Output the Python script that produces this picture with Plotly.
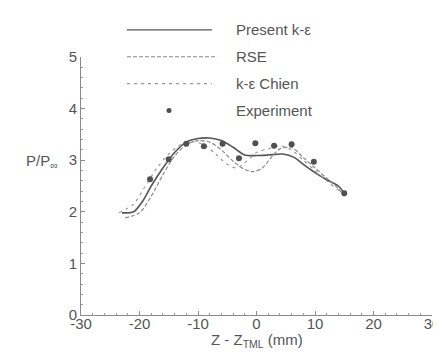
import plotly.graph_objects as go

# Data
present_x = [-23, -21, -19.5, -18, -16, -14, -12, -10, -8, -6, -4, -2, 0, 2, 4.5, 6.5, 8, 10, 12, 14, 15]
present_y = [1.98, 2.0, 2.2, 2.5, 2.85, 3.15, 3.35, 3.42, 3.43, 3.38, 3.25, 3.1, 3.09, 3.1, 3.12, 3.05, 2.92, 2.76, 2.62, 2.5, 2.36]

rse_x = [-22.5, -20, -18, -16, -14, -12, -10, -8, -6, -4, -2, -0.5, 1, 2.5, 4, 6, 8, 10, 12, 14, 15]
rse_y = [1.88, 1.98, 2.3, 2.72, 3.08, 3.3, 3.38, 3.35, 3.2, 2.98, 2.82, 2.78, 2.85, 3.05, 3.22, 3.25, 3.05, 2.85, 2.65, 2.45, 2.3]

chien_x = [-23.5, -21, -19, -17, -15, -13, -11, -9, -7, -5, -3.5, -2, 0, 2, 4, 6, 8, 10, 12, 14, 15]
chien_y = [1.98, 2.15, 2.5, 2.85, 3.12, 3.3, 3.36, 3.3, 3.12, 2.92, 2.85, 2.95, 3.15, 3.22, 3.28, 3.2, 3.0, 2.8, 2.6, 2.42, 2.35]

exp_x = [-18.2, -15.0, -12.0, -9.0, -5.8, -3.0, -0.2, 3.0, 6.0, 9.8, 15.0]
exp_y = [2.63, 3.02, 3.32, 3.27, 3.32, 3.04, 3.33, 3.28, 3.31, 2.97, 2.36]

legend_labels = ["Present k-ε", "RSE", "k-ε Chien", "Experiment"]

x_ticks = [-30, -20, -10, 0, 10, 20, 30]
y_ticks = [0, 1, 2, 3, 4, 5]

FONT = "Liberation Sans, Arial, sans-serif"
TXT = "#555555"
RSE_DASH = "4px,2px"
CHIEN_DASH = "3px,4px"

fig = go.Figure()
fig.add_trace(go.Scatter(x=present_x, y=present_y, mode="lines", line=dict(color="#555555", width=1.6, shape="spline", smoothing=0.8)))
fig.add_trace(go.Scatter(x=rse_x, y=rse_y, mode="lines", line=dict(color="#8a8a8a", width=1.2, dash=RSE_DASH, shape="spline", smoothing=0.8)))
fig.add_trace(go.Scatter(x=chien_x, y=chien_y, mode="lines", line=dict(color="#999999", width=1.2, dash=CHIEN_DASH, shape="spline", smoothing=0.8)))
fig.add_trace(go.Scatter(x=exp_x, y=exp_y, mode="markers", marker=dict(color="#505050", size=6, symbol="circle")))

# Legend drawn manually (paper coordinates)
rows = [1.105, 1.001, 0.897, 0.793]
x0, x1, xt = 0.131, 0.373, 0.437
fig.add_shape(type="line", xref="paper", yref="paper", x0=x0, x1=x1, y0=rows[0], y1=rows[0], line=dict(color="#555555", width=1.4))
fig.add_shape(type="line", xref="paper", yref="paper", x0=x0, x1=x1 + 0.015, y0=rows[1], y1=rows[1], line=dict(color="#8a8a8a", width=1.2, dash=RSE_DASH))
fig.add_shape(type="line", xref="paper", yref="paper", x0=x0, x1=x1, y0=rows[2], y1=rows[2], line=dict(color="#999999", width=1.2, dash=CHIEN_DASH))
fig.add_shape(type="circle", xref="paper", yref="paper", xsizemode="pixel", ysizemode="pixel",
              xanchor=0.2507, yanchor=rows[3], x0=-2.5, x1=2.5, y0=-2.5, y1=2.5,
              fillcolor="#505050", line=dict(width=0))
for lab, ry in zip(legend_labels, rows):
    fig.add_annotation(text=lab, xref="paper", yref="paper", x=xt, y=ry, xanchor="left", yanchor="middle",
                       showarrow=False, font=dict(family=FONT, size=15, color=TXT))

# Axis titles
fig.add_annotation(text="P/P<sub>∞</sub>", xref="paper", yref="paper", x=-0.06, y=0.595, xanchor="right", yanchor="middle",
                   showarrow=False, font=dict(family=FONT, size=15, color=TXT))
fig.add_annotation(text="Z - Z<sub>TML</sub> (mm)", xref="paper", yref="paper", x=0.5, y=-0.10, xanchor="center", yanchor="middle",
                   showarrow=False, font=dict(family=FONT, size=15, color=TXT))

fig.update_xaxes(range=[-30, 30], tickvals=x_ticks, ticktext=[str(v) for v in x_ticks],
                 showline=True, linecolor="#8a8a8a", linewidth=1, showgrid=False, zeroline=False,
                 ticks="inside", ticklen=4, tickcolor="#8a8a8a", ticklabelstandoff=-5,
                 minor=dict(dtick=2, ticks="inside", ticklen=2, tickcolor="#9a9a9a"),
                 tickfont=dict(family=FONT, size=15, color=TXT))
fig.update_yaxes(range=[0, 5], tickvals=y_ticks, ticktext=[str(v) for v in y_ticks],
                 showline=True, linecolor="#8a8a8a", linewidth=1, showgrid=False, zeroline=False,
                 ticks="inside", ticklen=4, tickcolor="#8a8a8a",
                 minor=dict(dtick=0.2, ticks="inside", ticklen=2, tickcolor="#9a9a9a"),
                 tickfont=dict(family=FONT, size=15, color=TXT))

fig.update_layout(width=441, height=352, margin=dict(l=73, r=9, t=49, b=45),
                  paper_bgcolor="white", plot_bgcolor="white", showlegend=False)

fig.write_html("out.html")
